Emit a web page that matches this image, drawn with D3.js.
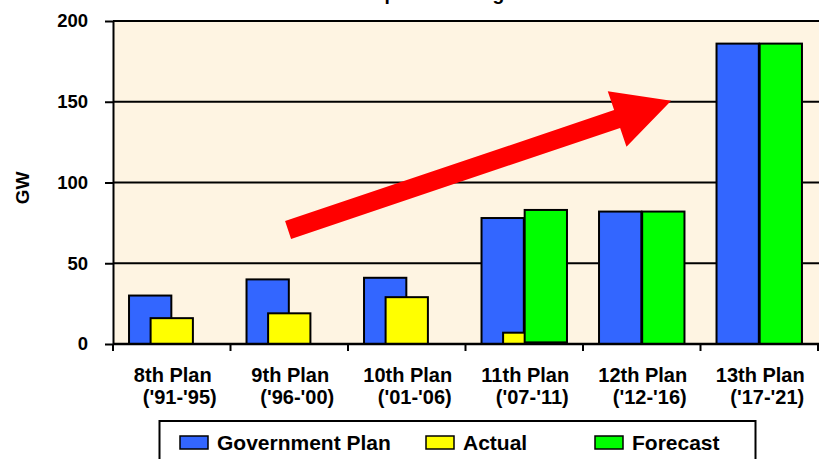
<!DOCTYPE html>
<html>
<head>
<meta charset="utf-8">
<script src="https://cdn.jsdelivr.net/npm/d3@7"></script>
<style>
  html, body { margin: 0; padding: 0; background: #ffffff; }
  svg { display: block; }
  text { font-family: "Liberation Sans", Arial, sans-serif; font-weight: bold; fill: #000; }
</style>
</head>
<body>
<svg id="chart" width="819" height="459"></svg>
<script>
// Five-year plan capacity additions (GW)
const planNames = ["8th Plan", "9th Plan", "10th Plan", "11th Plan", "12th Plan", "13th Plan"];
const planYears = ["('91-'95)", "('96-'00)", "('01-'06)", "('07-'11)", "('12-'16)", "('17-'21)"];
const governmentPlan = [30, 40, 41, 78, 82, 186];
const actual = [16, 19, 29, 7, null, null];
const forecast = [null, null, null, 83, 82, 186];
const forecastBase = [null, null, null, 1, 0, 0];
const yTicks = [0, 50, 100, 150, 200];
const seriesNames = ["Government Plan", "Actual", "Forecast"];
const seriesColors = ["#3366FF", "#FFFF00", "#00FF00"];

const svg = d3.select("#chart");
const plot = { left: 113, right: 818, top: 21, bottom: 344 };

const x = d3.scaleBand().domain(planNames).range([plot.left, plot.right]).paddingInner(0).paddingOuter(0);
const y = d3.scaleLinear().domain([0, 200]).range([plot.bottom, plot.top]);
// continuous position along the category axis (index units)
const xi = d3.scaleLinear().domain([0, planNames.length]).range([plot.left, plot.right]);

// title (sits mostly above the visible area)
svg.append("text")
  .attr("x", 361).attr("y", 0)
  .style("font-size", "19.3px")
  .text("Expansion Targets");

// plot background
svg.append("rect")
  .attr("x", plot.left).attr("y", plot.top)
  .attr("width", 819 - plot.left).attr("height", plot.bottom - plot.top)
  .attr("fill", "#FEF4E2");

// horizontal gridlines (including the top frame line)
svg.append("g").selectAll("line")
  .data(yTicks.filter(d => d > 0))
  .join("line")
  .attr("x1", plot.left).attr("x2", 819)
  .attr("y1", d => y(d)).attr("y2", d => y(d))
  .attr("stroke", "#000").attr("stroke-width", 2);

// bars
const bw = x.bandwidth();
const barW = bw * 0.36;
const step = barW * 0.51;
const span = 2 * step + barW;
const groupX = cat => x(cat) + (bw - span) / 2;
const offset = d3.scaleLinear().domain([0, 2]).range([0, 2 * step]);

const bars = [];
planNames.forEach((cat, i) => {
  bars.push({ s: 0, cat, lo: 0, hi: governmentPlan[i] });
  if (actual[i] != null) bars.push({ s: 1, cat, lo: 0, hi: actual[i] });
});
planNames.forEach((cat, i) => {
  if (forecast[i] != null) bars.push({ s: 2, cat, lo: forecastBase[i], hi: forecast[i] });
});
// draw order: plan, then actual, then forecast on top
bars.sort((a, b) => a.s - b.s);

svg.append("g").selectAll("rect")
  .data(bars)
  .join("rect")
  .attr("x", d => groupX(d.cat) + offset(d.s))
  .attr("y", d => y(d.hi))
  .attr("width", barW)
  .attr("height", d => y(d.lo) - y(d.hi))
  .attr("fill", d => seriesColors[d.s])
  .attr("stroke", "#000")
  .attr("stroke-width", 2);

// red trend arrow, anchored in category/value space
(function drawArrow() {
  const tail = [xi(1.49), y(70.6)];
  const tip = [xi(4.75), y(150.6)];
  const dx = tip[0] - tail[0], dy = tip[1] - tail[1];
  const len = Math.hypot(dx, dy);
  const ux = dx / len, uy = dy / len;
  const nx = -uy, ny = ux;
  const shaftHalf = 9.4, headHalf = 29.3, headLen = 57;
  const base = [tip[0] - ux * headLen, tip[1] - uy * headLen];
  const pts = [
    [tail[0] + nx * shaftHalf, tail[1] + ny * shaftHalf],
    [base[0] + nx * shaftHalf, base[1] + ny * shaftHalf],
    [base[0] + nx * headHalf, base[1] + ny * headHalf],
    tip,
    [base[0] - nx * headHalf, base[1] - ny * headHalf],
    [base[0] - nx * shaftHalf, base[1] - ny * shaftHalf],
    [tail[0] - nx * shaftHalf, tail[1] - ny * shaftHalf]
  ];
  svg.append("polygon")
    .attr("points", pts.map(p => p.join(",")).join(" "))
    .attr("fill", "#FF0000");
})();

// y axis
const yAxis = svg.append("g")
  .attr("transform", `translate(${plot.left},0)`)
  .call(d3.axisLeft(y).tickValues(yTicks).tickSize(8).tickPadding(17).tickSizeOuter(0));
yAxis.select(".domain").attr("stroke", "#000").attr("stroke-width", 2);
yAxis.selectAll(".tick line").attr("stroke", "#000").attr("stroke-width", 2);
yAxis.selectAll(".tick text")
  .style("font-family", "'Liberation Sans', Arial, sans-serif")
  .style("font-weight", "bold")
  .style("font-size", "18.5px")
  .attr("fill", "#000");

// x axis line
svg.append("line")
  .attr("x1", plot.left).attr("x2", 819)
  .attr("y1", y(0)).attr("y2", y(0))
  .attr("stroke", "#000").attr("stroke-width", 2.5);

// category boundary ticks
svg.append("g").selectAll("line")
  .data(d3.range(planNames.length + 1))
  .join("line")
  .attr("x1", d => xi(d)).attr("x2", d => xi(d))
  .attr("y1", y(0)).attr("y2", y(0) + 7)
  .attr("stroke", "#000").attr("stroke-width", 2);

// category labels
const xAxis = svg.append("g")
  .attr("transform", `translate(0,${plot.bottom})`)
  .call(d3.axisBottom(x).tickSize(0).tickPadding(0));
xAxis.select(".domain").remove();
xAxis.selectAll(".tick text").each(function (d, i) {
  const t = d3.select(this);
  t.text(null).attr("y", 0).attr("dy", null)
    .style("font-family", "'Liberation Sans', Arial, sans-serif")
    .style("font-weight", "bold")
    .style("font-size", "20px")
    .attr("fill", "#000");
  t.append("tspan").attr("x", 1).attr("y", 38).text(d);
  t.append("tspan").attr("x", 8).attr("y", 60).text(planYears[i]);
});

// y axis title
svg.append("text")
  .attr("transform", "translate(29,188) rotate(-90)")
  .attr("text-anchor", "middle")
  .style("font-size", "19px")
  .text("GW");

// legend
const legend = svg.append("g");
legend.append("rect")
  .attr("x", 159.5).attr("y", 421)
  .attr("width", 596).attr("height", 60)
  .attr("fill", "#fff")
  .attr("stroke", "#000").attr("stroke-width", 2);
const legendX = [180, 426, 595];
const items = legend.selectAll("g.item")
  .data(seriesNames)
  .join("g")
  .attr("class", "item")
  .attr("transform", (d, i) => `translate(${legendX[i]},436)`);
items.append("rect")
  .attr("width", 28).attr("height", 13)
  .attr("fill", (d, i) => seriesColors[i])
  .attr("stroke", "#000").attr("stroke-width", 1.5);
items.append("text")
  .attr("x", 37).attr("y", 13.5)
  .style("font-size", "21px")
  .text(d => d);
</script>
</body>
</html>
